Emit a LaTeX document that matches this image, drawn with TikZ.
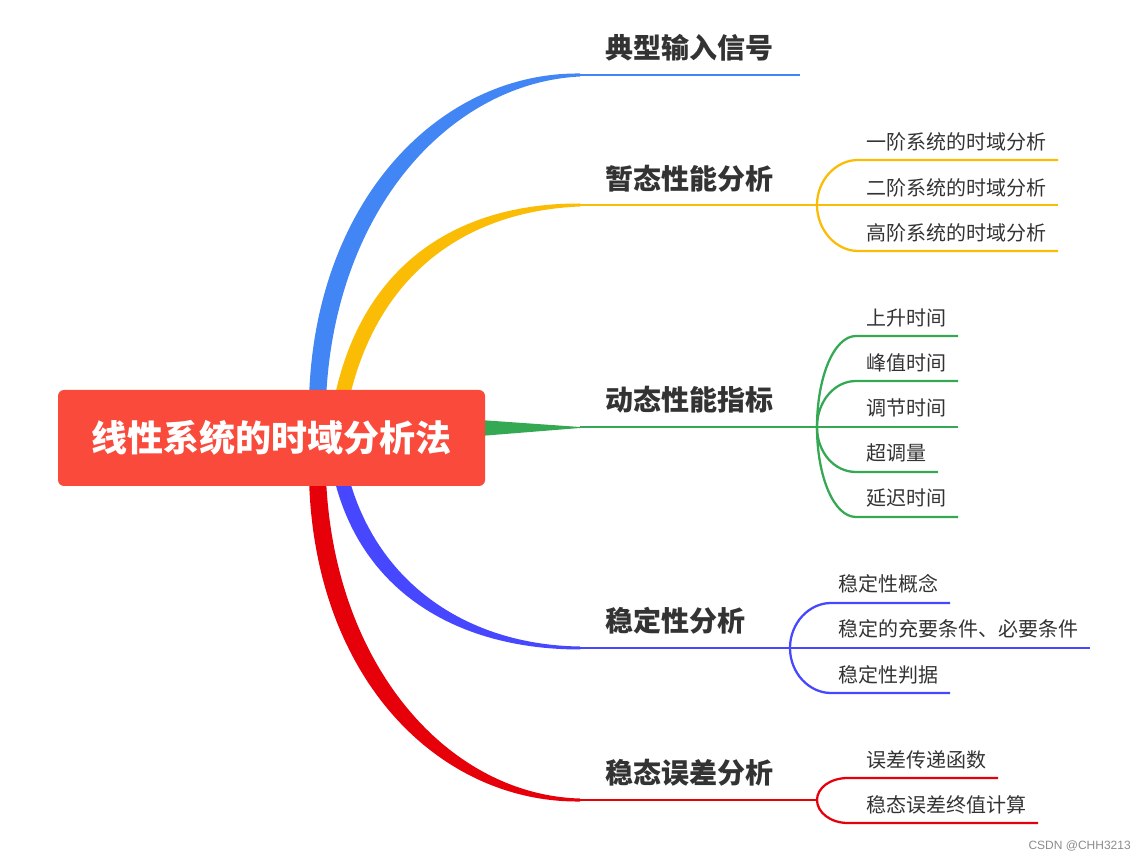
\documentclass[tikz,border=0pt]{standalone}
\usepackage{fontspec}
\newfontfamily\cjk{Noto Sans CJK SC}
\newfontfamily\wm{Liberation Sans}
\definecolor{cblue}{RGB}{66,133,244}
\definecolor{cyellow}{RGB}{251,188,5}
\definecolor{cgreen}{RGB}{52,168,83}
\definecolor{cviolet}{RGB}{71,71,255}
\definecolor{cred}{RGB}{230,0,10}
\definecolor{croot}{RGB}{250,74,60}
\definecolor{ctext}{RGB}{51,51,51}
\tikzset{
  mainlbl/.style={anchor=west,inner sep=0pt,text=ctext,font=\cjk\bfseries\fontsize{21pt}{21pt}\selectfont},
  sublbl/.style={anchor=west,inner sep=0pt,text=ctext,font=\cjk\fontsize{15pt}{15pt}\selectfont},
  mainline/.style={line width=2.2pt},
  subline/.style={line width=1.7pt},
}
\begin{document}
\begin{tikzpicture}[x=0.75pt,y=-0.75pt]
\useasboundingbox (0,0) rectangle (1146,862);
% coordinates
\coordinate (bE) at (580,75);
\coordinate (yE) at (580,205);
\coordinate (gE) at (580,427);
\coordinate (vE) at (580,648);
\coordinate (rE) at (580,800);
\coordinate (yJ) at (817,205);
\coordinate (gJ) at (817,427);
\coordinate (vJ) at (790,648);
\coordinate (rJ) at (817,800);
% tapered branches
\fill[cblue] (309,400) .. controls (314,200) and (440,72) .. (580,73.5) -- (580,76.5) .. controls (450,83) and (334,210) .. (326,400) -- cycle;
\fill[cyellow] (334,400) .. controls (362,262) and (460,203) .. (580,203.5) -- (580,206.5) .. controls (468,211) and (378,272) .. (349,400) -- cycle;
\fill[cgreen] (480,420) -- (gE) -- ++(0,1) -- (480,436) -- cycle;
\fill[cviolet] (334,478) .. controls (362,594) and (460,649.5) .. (580,649.5) -- (580,646.5) .. controls (468,645) and (378,584) .. (349,478) -- cycle;
\fill[cred] (309,478) .. controls (314,680) and (440,803) .. (580,801.5) -- (580,798.5) .. controls (450,795) and (334,668) .. (326,478) -- cycle;
% root
\node[fill=croot,rounded corners=4.5pt,minimum width=320.25pt,minimum height=72pt,inner sep=0pt,text=white,font=\cjk\bfseries\fontsize{27pt}{27pt}\selectfont] (root) at (271.5,438) {线性系统的时域分析法};
% main branch 1
\draw[cblue,mainline] (bE) -- (800,75) coordinate (bEnd);
\node[mainlbl] (b1) at (605,48) {典型输入信号};
% main branch 2
\draw[cyellow,mainline] (yE) -- (yJ);
\node[mainlbl] (b2) at (605,179) {暂态性能分析};
\draw[cyellow,subline] (yJ) .. controls (817,180) and (836,160) .. (858,160) -- (1058,160) coordinate (y1);
\draw[cyellow,subline] (yJ) -- (1058,205) coordinate (y2);
\draw[cyellow,subline] (yJ) .. controls (817,230) and (836,251) .. (858,251) -- (1058,251) coordinate (y3);
\node[sublbl] (s21) at (866,142) {一阶系统的时域分析};
\node[sublbl] (s22) at (866,188) {二阶系统的时域分析};
\node[sublbl] (s23) at (866,233) {高阶系统的时域分析};
% main branch 3
\draw[cgreen,mainline] (gE) -- (gJ);
\node[mainlbl] (b3) at (605,400) {动态性能指标};
\draw[cgreen,subline] (gJ) .. controls (817,377) and (834,336) .. (856,336) -- (958,336) coordinate (g1);
\draw[cgreen,subline] (gJ) .. controls (817,402) and (834,381) .. (856,381) -- (958,381) coordinate (g2);
\draw[cgreen,subline] (gJ) -- (958,427) coordinate (g3);
\draw[cgreen,subline] (gJ) .. controls (817,452) and (834,472) .. (856,472) -- (938,472) coordinate (g4);
\draw[cgreen,subline] (gJ) .. controls (817,477) and (834,517) .. (856,517) -- (958,517) coordinate (g5);
\node[sublbl] (s31) at (866,318) {上升时间};
\node[sublbl] (s32) at (866,363) {峰值时间};
\node[sublbl] (s33) at (866,408) {调节时间};
\node[sublbl] (s34) at (866,453) {超调量};
\node[sublbl] (s35) at (866,498) {延迟时间};
% main branch 4
\draw[cviolet,mainline] (vE) -- (vJ);
\node[mainlbl] (b4) at (605,621) {稳定性分析};
\draw[cviolet,subline] (vJ) .. controls (790,623) and (809,603) .. (831,603) -- (950,603) coordinate (v1);
\draw[cviolet,subline] (vJ) -- (1090,648) coordinate (v2);
\draw[cviolet,subline] (vJ) .. controls (790,673) and (809,693) .. (831,693) -- (950,693) coordinate (v3);
\node[sublbl] (s41) at (838,584) {稳定性概念};
\node[sublbl] (s42) at (838,629) {稳定的充要条件、必要条件};
\node[sublbl] (s43) at (838,675) {稳定性判据};
% main branch 5
\draw[cred,mainline] (rE) -- (rJ);
\node[mainlbl] (b5) at (605,773) {稳态误差分析};
\draw[cred,subline] (rJ) .. controls (817,788) and (830,778) .. (848,778) -- (998,778) coordinate (r1);
\draw[cred,subline] (rJ) .. controls (817,812) and (830,823) .. (848,823) -- (1038,823) coordinate (r2);
\node[sublbl] (s51) at (866,760) {误差传递函数};
\node[sublbl] (s52) at (866,805) {稳态误差终值计算};
% watermark
\node[anchor=east,inner sep=0pt,text=black!45,font=\wm\fontsize{9pt}{9pt}\selectfont] (wm) at (1131,846) {CSDN @CHH3213};
\end{tikzpicture}
\end{document}
